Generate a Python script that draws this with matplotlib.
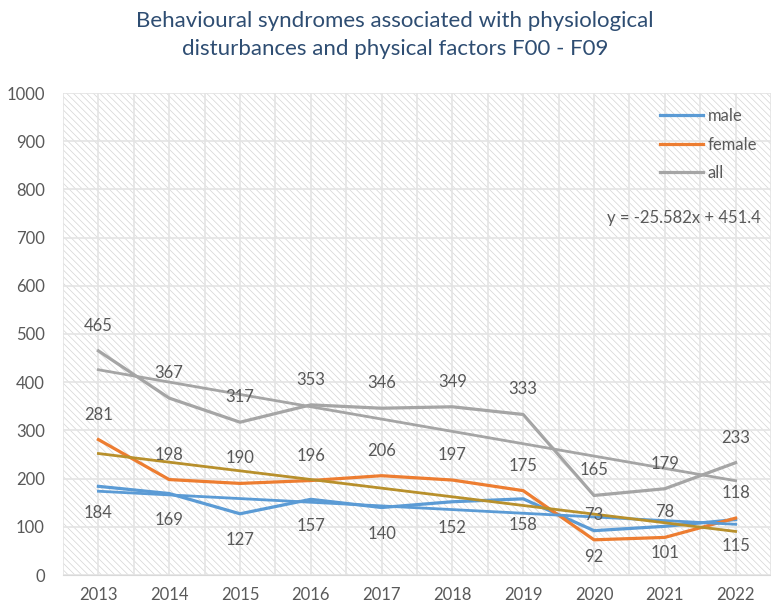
import numpy as np
import matplotlib
matplotlib.use("Agg")
import matplotlib.pyplot as plt
from matplotlib.patches import Rectangle

plt.rcParams['font.family'] = ['Lato', 'DejaVu Sans']
plt.rcParams['hatch.linewidth'] = 0.5

# data
years = ['2013', '2014', '2015', '2016', '2017', '2018', '2019', '2020', '2021', '2022']
male = [184, 169, 127, 157, 140, 152, 158, 92, 101, 115]
female = [281, 198, 190, 196, 206, 197, 175, 73, 78, 118]
total = [465, 367, 317, 353, 346, 349, 333, 165, 179, 233]

c_male = '#5B9BD5'
c_female = '#ED7D31'
c_all = '#A5A5A5'
c_ftrend = '#B8902C'
txt = '#595959'

x = np.arange(len(years))

fig = plt.figure(figsize=(7.71, 6.05), dpi=100)
ax = fig.add_axes([63 / 771, 1 - 575 / 605, 1 - 63 / 771, (575 - 93) / 605])

# hatched background
bg = Rectangle((0, 0), 1, 1, transform=ax.transAxes, facecolor='white',
               edgecolor='#d4d4d4', hatch='\\\\\\\\\\', lw=0, zorder=0)
ax.add_patch(bg)

ax.set_xlim(-0.5, 9.36)
ax.set_ylim(0, 1000)
ax.set_yticks(range(0, 1001, 100))
ax.set_xticks(x)
ax.set_xticklabels(years)
ax.set_xticks(np.arange(-0.5, 10, 0.5), minor=True)
ax.grid(axis='y', which='major', color='#e4e4e4', lw=1.2, zorder=1)
ax.grid(axis='x', which='both', color='#e4e4e4', lw=1.2, zorder=1)
ax.tick_params(which='both', length=0)
ax.tick_params(axis='y', pad=13, labelsize=12, labelcolor=txt)
ax.tick_params(axis='x', pad=9, labelsize=12, labelcolor=txt)
for s in ['top', 'right', 'left']:
    ax.spines[s].set_visible(False)
ax.spines['bottom'].set_color('#d9d9d9')

ax.plot(x, male, color=c_male, lw=2.3, label='male', zorder=3)
ax.plot(x, female, color=c_female, lw=2.3, label='female', zorder=3)
ax.plot(x, total, color=c_all, lw=2.3, label='all', zorder=3)

# linear trendlines (x = 1..10 as in Excel)
xe = x + 1
for vals, col in [(male, c_male), (female, c_ftrend), (total, c_all)]:
    k, b = np.polyfit(xe, vals, 1)
    ax.plot(x, k * xe + b, color=col, lw=2.0, zorder=4)

# data labels
for i in x:
    ax.annotate(str(total[i]), (i, total[i]), xytext=(0, 18), textcoords='offset points',
                ha='center', va='center', fontsize=12, color=txt, zorder=5)
    ax.annotate(str(female[i]), (i, female[i]), xytext=(0, 18), textcoords='offset points',
                ha='center', va='center', fontsize=12, color=txt, zorder=5)
    ax.annotate(str(male[i]), (i, male[i]), xytext=(0, -19), textcoords='offset points',
                ha='center', va='center', fontsize=12, color=txt, zorder=5)

k, b = np.polyfit(xe, total, 1)
ax.text(9.36, 740, 'y = %.3fx + %.1f' % (k, b), ha='right', va='center',
        fontsize=12, color=txt, zorder=5)

leg = ax.legend(loc='upper left', bbox_to_anchor=((660 - 63) / 708, (575 - 108) / 482),
                frameon=False, fontsize=12, handlelength=2.6, handletextpad=0.25,
                labelspacing=0.75, borderpad=0, borderaxespad=0)
for t in leg.get_texts():
    t.set_color(txt)

fig.text(0.512, 1 - 35 / 605, 'Behavioural syndromes associated with physiological\n'
         'disturbances and physical factors F00 - F09', ha='center', va='center',
         fontsize=16, color='#2E4D72', linespacing=1.45)

fig.savefig('out.png', dpi=100)
